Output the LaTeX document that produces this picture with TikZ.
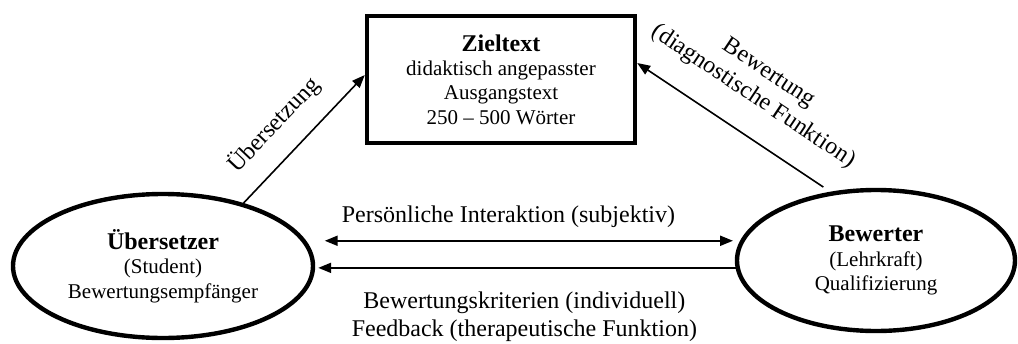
\documentclass[tikz,border=0pt]{standalone}
\usepackage{fontspec}
\setmainfont{Liberation Serif}
\usepackage{tikz}
\usetikzlibrary{shapes.geometric,arrows.meta}

\begin{document}
\begin{tikzpicture}[x=0.5pt, y=-0.5pt,
        font=\fontsize{10.5}{12.15}\selectfont,
        rolle/.style={draw, ellipse, line width=2.2pt, inner sep=0pt, align=center},
        pfeil/.style={-{Triangle[length=6.5pt,width=5pt]}, line width=0.8pt},
        doppelpfeil/.style={{Triangle[length=6.5pt,width=5pt]}-{Triangle[length=6.5pt,width=5pt]}, line width=1pt},
        beschriftung/.style={inner sep=0pt, font=\fontsize{12}{14}\selectfont, align=center}]
        % Fix the size of the picture
        \useasboundingbox (0,0) rectangle (1018,343);

        % Draw the target text box
        \node[draw, line width=2.2pt, minimum width=134pt, minimum height=63.5pt, inner sep=0pt, align=center] (ziel) at (501,79.5)
            {{\bfseries\fontsize{12}{12.15}\selectfont Zieltext}\\didaktisch angepasster\\Ausgangstext\\250 – 500 Wörter};

        % Draw the translator and the assessor
        \node[rolle, minimum width=150pt, minimum height=72pt] (uebersetzer) at (163,266)
            {{\bfseries\fontsize{12}{12.15}\selectfont Übersetzer}\\(Student)\\Bewertungsempfänger};
        \node[rolle, minimum width=139pt, minimum height=70.5pt] (bewerter) at (876,260.5)
            {{\bfseries\fontsize{12}{12.15}\selectfont Bewerter}\\(Lehrkraft)\\Qualifizierung};

        % Draw the arrows to the target text
        \draw[pfeil] (uebersetzer.38) -- ([yshift=2.25pt]ziel.west)
            node[beschriftung, sloped, pos=0.44, above=9.4pt] (luebersetzung) {Übersetzung};
        \draw[pfeil] ([yshift=3pt]bewerter.128.6) -- ([yshift=8.25pt]ziel.east)
            node[beschriftung, sloped, pos=0.485, above=12.4pt] (lbewertung) {Bewertung\\(diagnostische Funktion)};

        % Draw the arrows between translator and assessor
        \draw[doppelpfeil] ([xshift=9.3pt]uebersetzer.10.9) -- ([xshift=-4.7pt]bewerter.170.86 |- uebersetzer.10.9)
            node[beschriftung, pos=0.45, above=5.9pt] (linteraktion) {Persönliche Interaktion (subjektiv)};
        \draw[pfeil, line width=1pt] (bewerter.183.5) -- ([xshift=1.5pt]uebersetzer.east |- bewerter.183.5)
            node[beschriftung, pos=0.506, below=11.5pt] (lkriterien) {Bewertungskriterien (individuell)\\Feedback (therapeutische Funktion)};
\end{tikzpicture}
\end{document}
